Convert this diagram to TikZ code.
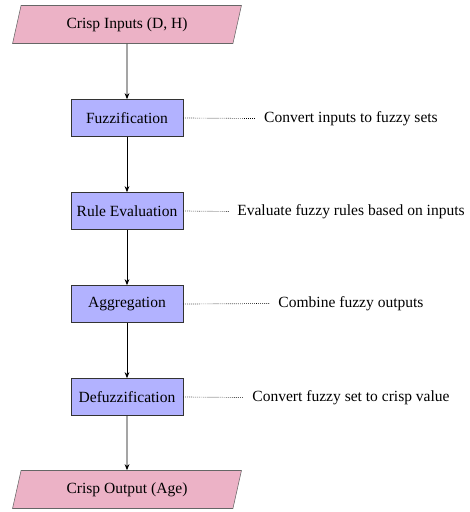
\documentclass[tikz,border=0pt]{standalone}
\usepackage{fontspec}
\setmainfont{Liberation Serif}
\usetikzlibrary{shapes.geometric,arrows.meta}
\begin{document}
\begin{tikzpicture}[x=0.74pt,y=-0.74pt,
  font=\fontsize{11.5}{14}\selectfont,
  io/.style={trapezium, trapezium left angle=71, trapezium right angle=109, trapezium stretches=true,
    draw=black!60, fill=purple!30, minimum width=230*0.74pt, minimum height=38*0.74pt, inner sep=0pt},
  proc/.style={rectangle, draw=black!80, fill=blue!30, minimum width=112*0.74pt, minimum height=37*0.74pt, inner sep=2pt},
  note/.style={inner sep=0pt, anchor=center},
  flow/.style={-{Stealth[length=4.5pt,width=3.5pt]}, line width=0.6pt},
  link/.style={densely dotted, line width=0.5pt}]
\useasboundingbox (0,0) rectangle (469,512);
\node[io] (in) at (127,24.5) {Crisp Inputs (D, H)};
\node[proc] (fuz) at (127,118) {Fuzzification};
\node[proc] (rule) at (127,211) {Rule Evaluation};
\node[proc] (agg) at (127,304) {Aggregation};
\node[proc] (def) at (127,397) {Defuzzification};
\node[io] (out) at (127,489.5) {Crisp Output (Age)};
\node[note] (n1) at (351,118.5) {Convert inputs to fuzzy sets};
\node[note] (n2) at (351,211.5) {Evaluate fuzzy rules based on inputs};
\node[note] (n3) at (351,303.5) {Combine fuzzy outputs};
\node[note] (n4) at (351,397.5) {Convert fuzzy set to crisp value};
\draw[flow] (in) -- (fuz);
\draw[flow] (fuz) -- (rule);
\draw[flow] (rule) -- (agg);
\draw[flow] (agg) -- (def);
\draw[flow] (def) -- (out);
\draw[link] (fuz.east) -- ([xshift=-6]n1.west);
\draw[link] (rule.east) -- ([xshift=-6]n2.west);
\draw[link] (agg.east) -- ([xshift=-6]n3.west);
\draw[link] (def.east) -- ([xshift=-6]n4.west);
\end{tikzpicture}
\end{document}
